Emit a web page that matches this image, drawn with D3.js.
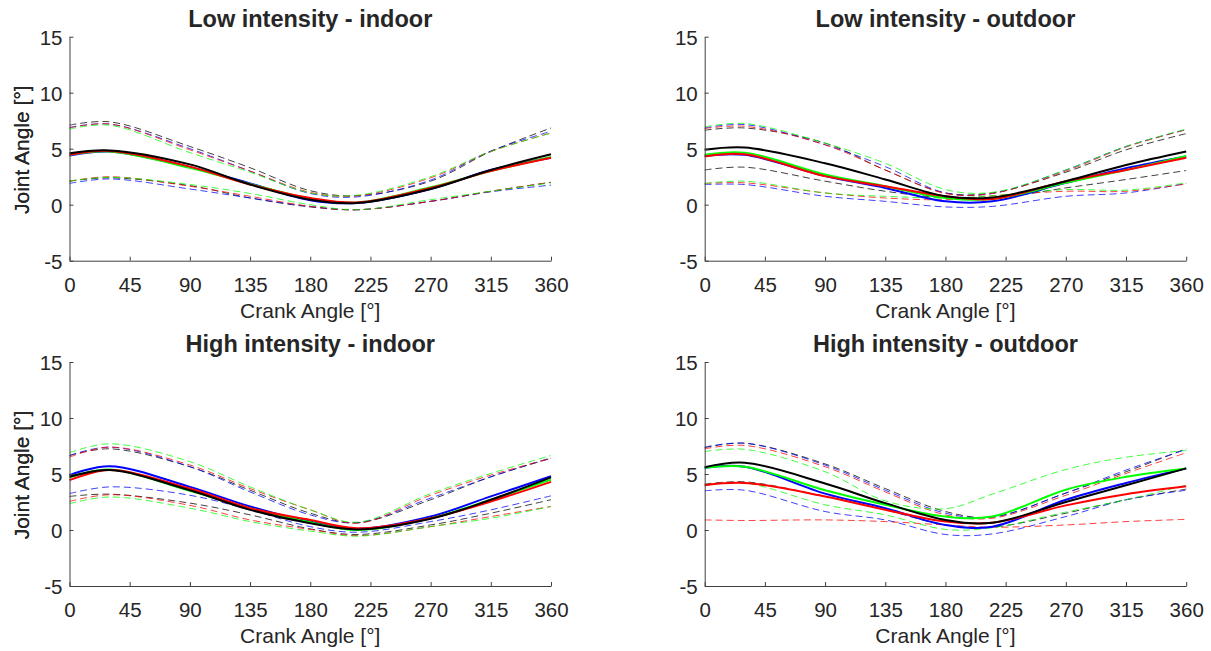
<!DOCTYPE html>
<html>
<head>
<meta charset="utf-8">
<script src="https://cdn.jsdelivr.net/npm/d3@7"></script>
<style>
  html, body { margin: 0; padding: 0; background: #fff; }
  svg { display: block; }
  text { font-family: "Liberation Sans", Arial, Helvetica, sans-serif; fill: #262626; }
</style>
</head>
<body>
<svg id="chart" width="1211" height="651"></svg>
<script>
// Crank angle samples (degrees) shared by every curve
const crankAngles = [0, 30, 90, 135, 180, 215, 270, 315, 360];
const xTicks = [0, 45, 90, 135, 180, 225, 270, 315, 360];
const yTicks = [-5, 0, 5, 10, 15];
const panelTitles = ["Low intensity - indoor", "Low intensity - outdoor",
                     "High intensity - indoor", "High intensity - outdoor"];
const seriesColors = ["#000000", "#0000ff", "#ff0000", "#00ff00"]; // black, blue, red, green

// Low intensity - indoor
const lowInBlackMean  = [4.6, 4.85, 3.6, 1.8, 0.45, 0.15, 1.4, 3.1, 4.5];
const lowInBlueMean   = [4.4, 4.75, 3.35, 1.9, 0.4, 0.15, 1.4, 3.1, 4.2];
const lowInRedMean    = [4.45, 4.8, 3.4, 1.8, 0.6, 0.2, 1.5, 3.0, 4.2];
const lowInGreenMean  = [4.45, 4.75, 3.3, 1.85, 0.55, 0.2, 1.55, 3.0, 4.25];
const lowInBlackUpper = [7.1, 7.4, 5.2, 3.3, 1.25, 0.8, 2.1, 4.75, 6.85];
const lowInBlueUpper  = [6.9, 7.2, 5.0, 3.0, 1.0, 0.7, 2.2, 4.8, 6.55];
const lowInRedUpper   = [6.85, 7.2, 4.9, 3.0, 1.1, 0.8, 2.4, 4.75, 6.4];
const lowInGreenUpper = [6.75, 7.1, 4.65, 2.9, 1.05, 0.85, 2.5, 4.75, 6.4];
const lowInBlackLower = [2.1, 2.4, 1.7, 0.6, -0.2, -0.45, 0.3, 1.2, 2.0];
const lowInBlueLower  = [1.9, 2.3, 1.4, 0.6, -0.15, -0.45, 0.3, 1.15, 1.75];
const lowInRedLower   = [2.1, 2.5, 1.65, 0.75, -0.15, -0.45, 0.3, 1.2, 2.0];
const lowInGreenLower = [2.1, 2.45, 1.8, 1.0, 0.0, -0.45, 0.45, 1.2, 1.95];

// Low intensity - outdoor
const lowOutBlackMean  = [4.9, 5.1, 3.7, 2.25, 0.75, 0.65, 2.1, 3.55, 4.75];
const lowOutBlueMean   = [4.35, 4.45, 2.55, 1.5, 0.3, 0.3, 1.95, 3.25, 4.3];
const lowOutRedMean    = [4.3, 4.5, 2.55, 1.65, 0.75, 0.5, 2.1, 3.1, 4.2];
const lowOutGreenMean  = [4.45, 4.65, 2.7, 1.65, 0.6, 0.5, 1.95, 3.1, 4.35];
const lowOutBlackUpper = [6.65, 6.85, 5.5, 3.1, 1.05, 1.05, 2.9, 4.9, 6.35];
const lowOutBlueUpper  = [6.85, 7.15, 5.35, 3.4, 1.05, 1.0, 3.1, 5.2, 6.7];
const lowOutRedUpper   = [6.8, 7.0, 5.35, 3.1, 1.0, 1.0, 3.0, 5.15, 6.7];
const lowOutGreenUpper = [6.95, 7.25, 5.5, 3.7, 1.35, 1.1, 3.1, 5.2, 6.75];
const lowOutBlackLower = [3.1, 3.35, 2.1, 1.2, 0.6, 0.55, 1.5, 2.25, 3.05];
const lowOutBlueLower  = [1.8, 1.8, 0.75, 0.3, -0.2, -0.15, 0.75, 1.05, 1.9];
const lowOutRedLower   = [1.9, 1.95, 1.05, 0.6, 0.45, 0.8, 1.2, 1.2, 1.85];
const lowOutGreenLower = [1.9, 2.1, 1.05, 0.75, 0.6, 0.8, 1.35, 1.3, 1.95];

// High intensity - indoor
const highInBlackMean  = [4.75, 5.35, 3.55, 1.8, 0.6, 0.05, 1.0, 2.7, 4.7];
const highInBlueMean   = [4.9, 5.7, 3.85, 2.1, 0.75, 0.1, 1.2, 3.0, 4.8];
const highInRedMean    = [4.45, 5.35, 3.7, 1.95, 0.9, 0.15, 1.05, 2.55, 4.3];
const highInGreenMean  = [4.7, 5.4, 3.5, 1.95, 0.7, 0.0, 1.05, 2.7, 4.5];
const highInBlackUpper = [6.65, 7.25, 5.65, 3.55, 1.5, 0.65, 2.7, 4.75, 6.4];
const highInBlueUpper  = [6.65, 7.4, 5.65, 3.4, 1.35, 0.65, 2.85, 4.75, 6.45];
const highInRedUpper   = [6.5, 7.4, 5.8, 3.7, 1.8, 0.6, 3.1, 4.9, 6.4];
const highInGreenUpper = [6.9, 7.7, 6.1, 3.85, 1.8, 0.7, 3.25, 5.05, 6.65];
const highInBlackLower = [3.0, 3.2, 2.4, 1.35, 0.1, -0.4, 0.45, 1.5, 2.7];
const highInBlueLower  = [3.25, 3.85, 3.1, 1.8, 0.3, -0.2, 0.75, 1.8, 3.05];
const highInRedLower   = [2.55, 3.15, 2.2, 0.9, 0.05, -0.5, 0.3, 1.2, 2.1];
const highInGreenLower = [2.35, 2.95, 1.95, 0.75, -0.1, -0.55, 0.3, 1.05, 2.1];

// High intensity - outdoor
const highOutBlackMean  = [5.6, 6.0, 4.15, 2.4, 0.9, 0.65, 2.5, 4.0, 5.5];
const highOutBlueMean   = [5.55, 5.65, 3.25, 1.95, 0.45, 0.3, 2.7, 4.2, 5.5];
const highOutRedMean    = [4.0, 4.2, 3.0, 1.8, 0.75, 0.65, 2.2, 3.2, 3.9];
const highOutGreenMean  = [5.55, 5.65, 3.55, 2.25, 1.2, 1.2, 3.6, 4.75, 5.5];
const highOutBlackUpper = [7.35, 7.75, 5.9, 3.7, 1.65, 1.15, 3.3, 5.2, 7.25];
const highOutBlueUpper  = [7.4, 7.75, 5.8, 3.55, 1.5, 1.15, 3.3, 5.35, 7.2];
const highOutRedUpper   = [7.25, 7.55, 5.65, 3.4, 1.35, 1.05, 3.1, 5.05, 6.9];
const highOutGreenUpper = [7.0, 7.2, 5.2, 2.6, 1.9, 3.2, 5.4, 6.5, 7.1];
const highOutBlackLower = [4.1, 4.3, 3.0, 1.8, 0.45, 0.25, 1.5, 2.7, 3.65];
const highOutBlueLower  = [3.5, 3.55, 1.65, 0.9, -0.4, -0.35, 1.2, 2.7, 3.55];
const highOutRedLower   = [0.9, 0.85, 0.9, 0.75, 0.45, 0.25, 0.45, 0.75, 0.95];
const highOutGreenLower = [4.0, 4.2, 2.25, 1.35, 0.05, 0.2, 1.6, 2.7, 4.0];

// Per panel: [mean, upper, lower] for each colour, in seriesColors order
const panelSeries = [
  [[lowInBlackMean, lowInBlackUpper, lowInBlackLower],
   [lowInBlueMean, lowInBlueUpper, lowInBlueLower],
   [lowInRedMean, lowInRedUpper, lowInRedLower],
   [lowInGreenMean, lowInGreenUpper, lowInGreenLower]],
  [[lowOutBlackMean, lowOutBlackUpper, lowOutBlackLower],
   [lowOutBlueMean, lowOutBlueUpper, lowOutBlueLower],
   [lowOutRedMean, lowOutRedUpper, lowOutRedLower],
   [lowOutGreenMean, lowOutGreenUpper, lowOutGreenLower]],
  [[highInBlackMean, highInBlackUpper, highInBlackLower],
   [highInBlueMean, highInBlueUpper, highInBlueLower],
   [highInRedMean, highInRedUpper, highInRedLower],
   [highInGreenMean, highInGreenUpper, highInGreenLower]],
  [[highOutBlackMean, highOutBlackUpper, highOutBlackLower],
   [highOutBlueMean, highOutBlueUpper, highOutBlueLower],
   [highOutRedMean, highOutRedUpper, highOutRedLower],
   [highOutGreenMean, highOutGreenUpper, highOutGreenLower]]
];

// Layout of the 2x2 grid
const plotW = 481.5, plotH = 224;
const origins = [[69.5, 36.7], [704.7, 36.7], [69.5, 362], [704.7, 362]];

const svg = d3.select("#chart");
const x = d3.scaleLinear().domain([0, 360]).range([0, plotW]);
const y = d3.scaleLinear().domain([-5, 15]).range([plotH, 0]);
const line = d3.line()
  .x((d, i) => x(crankAngles[i]))
  .y(d => y(d))
  .curve(d3.curveCatmullRom.alpha(0.5));

panelTitles.forEach((title, p) => {
  const [ox, oy] = origins[p];
  const g = svg.append("g").attr("transform", `translate(${ox},${oy})`);

  // dashed +/- SD bands first, then the means on top
  const series = panelSeries[p];
  series.forEach((s, c) => {
    [s[1], s[2]].forEach(vals => {
      g.append("path")
        .attr("d", line(vals))
        .attr("fill", "none")
        .attr("stroke", seriesColors[c])
        .attr("stroke-width", 1)
        .attr("stroke-opacity", 0.75)
        .attr("stroke-dasharray", "7,4");
    });
  });
  [1, 3, 2, 0].forEach(c => {
    g.append("path")
      .attr("d", line(series[c][0]))
      .attr("fill", "none")
      .attr("stroke", seriesColors[c])
      .attr("stroke-width", 2);
  });

  // axes with inward ticks; plain hyphen for negative labels
  const fmt = d => String(d);
  const xAxis = g.append("g").attr("transform", `translate(0,${plotH})`)
    .call(d3.axisBottom(x).tickValues(xTicks).tickFormat(fmt).tickSize(-4).tickSizeOuter(0));
  const yAxis = g.append("g")
    .call(d3.axisLeft(y).tickValues(yTicks).tickFormat(fmt).tickSize(-4).tickSizeOuter(0));
  [xAxis, yAxis].forEach(a => {
    a.select(".domain").attr("stroke", "#404040").attr("stroke-width", 1);
    a.selectAll(".tick line").attr("stroke", "#404040");
    a.selectAll(".tick text")
      .attr("font-size", 20.5)
      .attr("font-family", "'Liberation Sans', Arial, sans-serif")
      .attr("fill", "#262626");
  });
  xAxis.selectAll(".tick text").attr("dy", null).attr("y", 31);
  yAxis.selectAll(".tick text").attr("dy", "0.36em").attr("x", -7);

  // titles and axis labels
  g.append("text")
    .attr("x", plotW / 2).attr("y", -10)
    .attr("text-anchor", "middle")
    .attr("font-size", 23.5).attr("font-weight", "bold")
    .attr("fill", "#000")
    .text(title);
  g.append("text")
    .attr("x", plotW / 2).attr("y", plotH + 57)
    .attr("text-anchor", "middle")
    .attr("font-size", 21)
    .text("Crank Angle [°]");
  g.append("text")
    .attr("transform", `translate(${-ox + 29},${plotH / 2 + 1}) rotate(-90)`)
    .attr("text-anchor", "middle")
    .attr("font-size", 21)
    .text("Joint Angle [°]");
});
</script>
</body>
</html>
